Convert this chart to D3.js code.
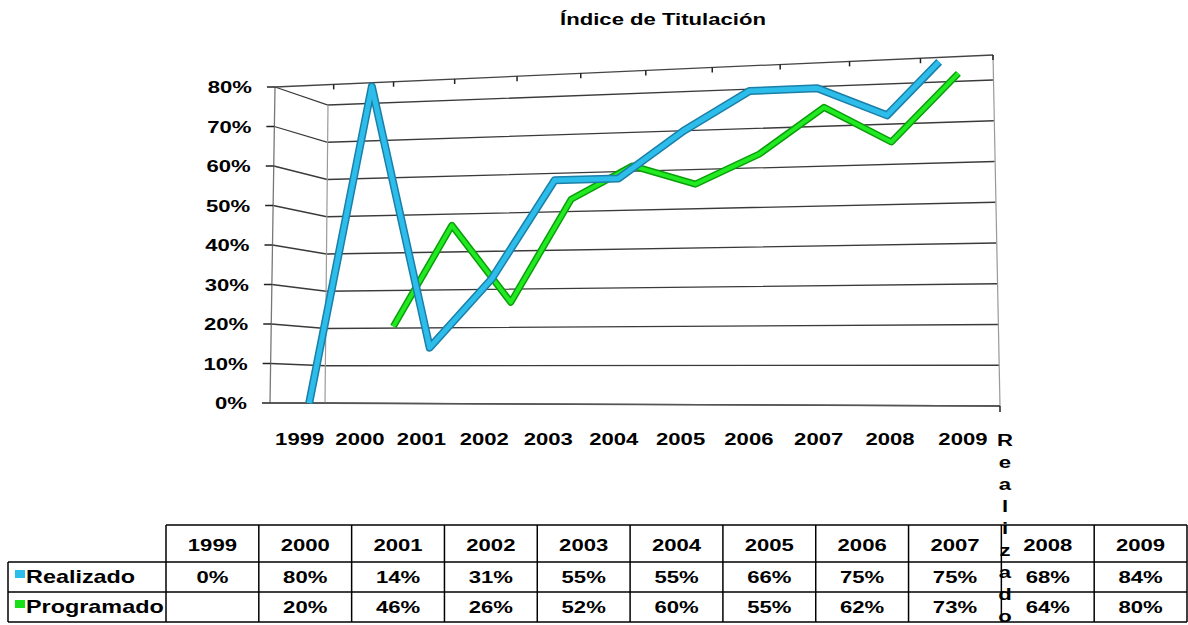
<!DOCTYPE html>
<html>
<head>
<meta charset="utf-8">
<script src="https://cdn.jsdelivr.net/npm/d3@7"></script>
<style>
  body { margin: 0; background: #fff; }
  svg text { font-family: 'Liberation Sans', Arial, sans-serif; font-weight: bold; fill: #000; }
</style>
</head>
<body>
<div id="chart"></div>
<script>
var years = ["1999", "2000", "2001", "2002", "2003", "2004", "2005", "2006", "2007", "2008", "2009"];
var realizado = [0, 80, 14, 31, 55, 55, 66, 75, 75, 68, 84];
var programado = [null, 20, 46, 26, 52, 60, 55, 62, 73, 64, 80];
var yTicks = [0, 10, 20, 30, 40, 50, 60, 70, 80];
var seriesNames = ["Realizado", "Programado"];

var W = 1188, H = 625;
var svg = d3.select("#chart").append("svg").attr("width", W).attr("height", H);

// 3d box corners on screen (front / back wall)
var front = { bl: [270, 403], tl: [275, 87], br: [1000, 406], tr: [993, 55] };
var back  = { bl: [325, 403], tl: [328, 105], br: [1000, 406], tr: [993, 80] };

var u = d3.scaleLinear().domain([0, years.length]).range([0, 1]);
var v = d3.scaleLinear().domain([0, 80]).range([0, 1]);
var r = 0.89; // perspective squeeze along categories

function persp(t) { return t * r / (1 + (r - 1) * t); }
function lerp(a, b, t) { return [a[0] + (b[0] - a[0]) * t, a[1] + (b[1] - a[1]) * t]; }

// t = 0..1 along categories, s = 0..1 along value, w = 0..1 depth
function project(t, s, w) {
  var k = persp(t);
  var f = lerp(lerp(front.bl, front.br, k), lerp(front.tl, front.tr, k), s);
  var b = lerp(lerp(back.bl, back.br, k), lerp(back.tl, back.tr, k), s);
  return lerp(f, b, w);
}

function stext(g, x, y, str, anchor, size) {
  return g.append("text")
    .attr("transform", "translate(" + x + "," + y + ") scale(1.3,1)")
    .attr("text-anchor", anchor)
    .style("font-size", size + "px")
    .text(str);
}

var line = d3.line().x(d => d[0]).y(d => d[1]);

// title
stext(svg, 663, 25, "Índice de Titulación", "middle", 17);

// walls and grid
var grid = svg.append("g");
yTicks.forEach(function (t) {
  var pts = [project(0, v(t), 0), project(0, v(t), 1), project(1, v(t), 1)];
  grid.append("path").attr("d", line(pts)).attr("fill", "none")
    .attr("stroke", "#3a3a3a").attr("stroke-width", 1.3);
});
// back left edge
grid.append("path").attr("d", line([project(0, 0, 1), project(0, 1, 1)]))
  .attr("stroke", "#9a9a9a").attr("stroke-width", 1.2);
// front left axis
grid.append("path").attr("d", line([project(0, 0, 0), project(0, 1, 0)]))
  .attr("stroke", "#777").attr("stroke-width", 1.3);
// right edge
grid.append("path").attr("d", line([project(1, 0, 0), project(1, 1, 0)]))
  .attr("stroke", "#999").attr("stroke-width", 1.2);
// top edge with category ticks
grid.append("path").attr("d", line([project(0, 1, 0), project(1, 1, 0)]))
  .attr("fill", "none").attr("stroke", "#444").attr("stroke-width", 1.3);
d3.range(1, years.length + 1).forEach(function (i) {
  var p = project(u(i), 1, 0);
  grid.append("line").attr("x1", p[0]).attr("x2", p[0]).attr("y1", p[1]).attr("y2", p[1] + 5)
    .attr("stroke", "#222").attr("stroke-width", 1.5);
});
// floor
grid.append("path").attr("d", line([project(0, 0, 0), project(1, 0, 0)]))
  .attr("stroke", "#555").attr("stroke-width", 1.5);
var fr = project(1, 0, 0);
grid.append("line").attr("x1", fr[0]).attr("x2", fr[0]).attr("y1", fr[1]).attr("y2", fr[1] + 6)
  .attr("stroke", "#222").attr("stroke-width", 1.5);

// value axis ticks and labels
yTicks.forEach(function (t) {
  var p = project(0, v(t), 0);
  svg.append("line").attr("x1", p[0] - 8).attr("x2", p[0]).attr("y1", p[1]).attr("y2", p[1])
    .attr("stroke", "#222").attr("stroke-width", 1.5);
  stext(svg, p[0] - 23, p[1] + 6, t + "%", "end", 17);
});

// category labels
years.forEach(function (y, i) {
  var p = project(u(i + 0.5), 0, 0);
  stext(svg, p[0], 445, y, "middle", 17);
});

// series axis label, stacked
seriesNames[0].split("").forEach(function (ch, i) {
  stext(svg, 1005, 446 + i * 22, ch, "middle", 17);
});

// series lines (clipped at 80%)
function seriesPoints(vals, w) {
  var pts = [];
  var vmax = v.domain()[1];
  vals.forEach(function (val, i) {
    if (val == null) return;
    var prev = i > 0 ? vals[i - 1] : null;
    if (val > vmax) {
      if (prev != null && prev <= vmax) {
        var k = (vmax - prev) / (val - prev);
        pts.push(project(u(i - 0.5 + k), 1, w));
      }
      return;
    }
    pts.push(project(u(i + 0.5), v(val), w));
  });
  return pts;
}

var gPts = seriesPoints(programado, 0.68);
var bPts = seriesPoints(realizado, 0.18);

svg.append("path").attr("d", line(gPts)).attr("fill", "none")
  .attr("stroke", "#0a9e0a").attr("stroke-width", 7).attr("stroke-linejoin", "round");
svg.append("path").attr("d", line(gPts)).attr("fill", "none")
  .attr("stroke", "#22ea22").attr("stroke-width", 4).attr("stroke-linejoin", "round");

svg.append("path").attr("d", line(bPts)).attr("fill", "none")
  .attr("stroke", "#1b7fa8").attr("stroke-width", 8).attr("stroke-linejoin", "round");
svg.append("path").attr("d", line(bPts)).attr("fill", "none")
  .attr("stroke", "#2cbdea").attr("stroke-width", 5).attr("stroke-linejoin", "round");

// data table
var colX = d3.scaleLinear().domain([0, years.length]).range([166, 1187]);
var rowY = [525, 562, 592, 622];
var tbl = svg.append("g");
tbl.append("line").attr("x1", colX(0)).attr("x2", colX(years.length)).attr("y1", rowY[0]).attr("y2", rowY[0]);
[1, 2, 3].forEach(function (k) {
  tbl.append("line").attr("x1", 8).attr("x2", colX(years.length)).attr("y1", rowY[k]).attr("y2", rowY[k]);
});
tbl.append("line").attr("x1", 8).attr("x2", 8).attr("y1", rowY[1]).attr("y2", rowY[3]);
d3.range(0, years.length + 1).forEach(function (i) {
  tbl.append("line").attr("x1", colX(i)).attr("x2", colX(i)).attr("y1", rowY[0]).attr("y2", rowY[3]);
});
tbl.selectAll("line").attr("stroke", "#000").attr("stroke-width", 1.5);

years.forEach(function (y, i) {
  var cx = (colX(i) + colX(i + 1)) / 2;
  stext(svg, cx, 551, y, "middle", 17);
  stext(svg, cx, 583, realizado[i] + "%", "middle", 17);
  if (programado[i] != null) stext(svg, cx, 613, programado[i] + "%", "middle", 17);
});

svg.append("rect").attr("x", 15).attr("y", 570).attr("width", 10).attr("height", 8).attr("fill", "#2cbdea");
svg.append("rect").attr("x", 15).attr("y", 600).attr("width", 10).attr("height", 8).attr("fill", "#18e018");
stext(svg, 26, 583, seriesNames[0], "start", 18);
stext(svg, 26, 613, seriesNames[1], "start", 18);
</script>
</body>
</html>
